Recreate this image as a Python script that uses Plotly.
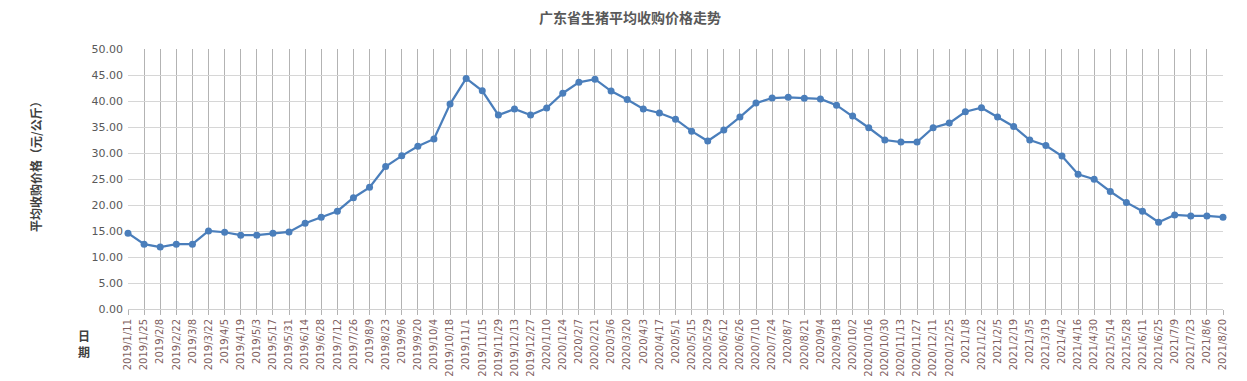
import plotly.graph_objects as go

dates = [
    "2019/1/11", "2019/1/25", "2019/2/8", "2019/2/22", "2019/3/8", "2019/3/22",
    "2019/4/5", "2019/4/19", "2019/5/3", "2019/5/17", "2019/5/31", "2019/6/14",
    "2019/6/28", "2019/7/12", "2019/7/26", "2019/8/9", "2019/8/23", "2019/9/6",
    "2019/9/20", "2019/10/4", "2019/10/18", "2019/11/1", "2019/11/15", "2019/11/29",
    "2019/12/13", "2019/12/27", "2020/1/10", "2020/1/24", "2020/2/7", "2020/2/21",
    "2020/3/6", "2020/3/20", "2020/4/3", "2020/4/17", "2020/5/1", "2020/5/15",
    "2020/5/29", "2020/6/12", "2020/6/26", "2020/7/10", "2020/7/24", "2020/8/7",
    "2020/8/21", "2020/9/4", "2020/9/18", "2020/10/2", "2020/10/16", "2020/10/30",
    "2020/11/13", "2020/11/27", "2020/12/11", "2020/12/25", "2021/1/8", "2021/1/22",
    "2021/2/5", "2021/2/19", "2021/3/5", "2021/3/19", "2021/4/2", "2021/4/16",
    "2021/4/30", "2021/5/14", "2021/5/28", "2021/6/11", "2021/6/25", "2021/7/9",
    "2021/7/23", "2021/8/6", "2021/8/20",
]

prices = [
    14.57, 12.46, 11.90, 12.46, 12.46, 15.02, 14.76, 14.19, 14.19, 14.57,
    14.83, 16.50, 17.66, 18.81, 21.40, 23.40, 27.40, 29.45, 31.30, 32.70,
    39.40, 44.35, 41.95, 37.30, 38.45, 37.30, 38.64, 41.50, 43.60, 44.20,
    41.90, 40.30, 38.45, 37.70, 36.50, 34.20, 32.30, 34.40, 36.90, 39.60,
    40.57, 40.70, 40.55, 40.40, 39.20, 37.10, 34.85, 32.50, 32.10, 32.10,
    34.85, 35.75, 37.93, 38.70, 36.90, 35.10, 32.50, 31.45, 29.40, 25.90,
    24.96, 22.60, 20.50, 18.80, 16.70, 18.10, 17.90, 17.90, 17.65,
]

y_ticks = [0, 5, 10, 15, 20, 25, 30, 35, 40, 45, 50]

title_text = "广东省生猪平均收购价格走势"
y_title = "平均收购价格（元/公斤）"
x_title = "日<br>期"

idx = list(range(len(dates)))
line_color = "#4A7EBB"
cjk = "Noto Sans CJK SC"

# page body has an 8px margin: size figure so it fits the 1247x381 window
W, H = 1239, 373
ML, MR, MT, MB = 120, 24, 41, 72
PW, PH = W - ML - MR, H - MT - MB


def px_x(x):  # window pixel -> paper x
    return (x - 8 - ML) / PW


def px_y(y):  # window pixel -> paper y
    return (H - MB + 8 - y) / PH


fig = go.Figure()
fig.add_trace(go.Scatter(
    x=idx, y=prices, mode="lines+markers",
    line=dict(color=line_color, width=2.25),
    marker=dict(color=line_color, size=7, symbol="circle"),
    cliponaxis=False,
    showlegend=False,
))

fig.update_layout(
    width=W, height=H,
    margin=dict(l=ML, r=MR, t=MT, b=MB),
    paper_bgcolor="white", plot_bgcolor="white",
    xaxis=dict(
        range=[0, len(dates) - 1],
        tickmode="array", tickvals=idx, ticktext=dates,
        tickangle=-90, automargin=False,
        tickfont=dict(family="DejaVu Sans", size=10, color="#7F5F5F"),
        showgrid=True, gridcolor="#B3B3B3", gridwidth=1,
        ticks="outside", ticklen=5, tickcolor="#B3B3B3",
        showline=True, linecolor="#D0D0D0", linewidth=1,
        zeroline=False, fixedrange=True,
    ),
    yaxis=dict(
        range=[0, 50], automargin=False,
        tickmode="array", tickvals=y_ticks,
        ticktext=[f"{v:.2f}" for v in y_ticks],
        tickfont=dict(family="DejaVu Sans", size=11, color="#595959"),
        showgrid=True, gridcolor="#D6D6D6", gridwidth=1,
        zeroline=False, showline=False, ticks="", ticklabelstandoff=4,
        fixedrange=True,
    ),
    annotations=[
        dict(text=f"<b>{title_text}</b>", xref="paper", yref="paper",
             x=px_x(630), y=px_y(17),
             xanchor="center", yanchor="middle", showarrow=False,
             font=dict(family=cjk, size=14, color="#595959")),
        dict(text=f"<b>{y_title}</b>", xref="paper", yref="paper",
             x=px_x(35), y=px_y(164),
             xanchor="center", yanchor="middle", showarrow=False, textangle=-90,
             font=dict(family=cjk, size=12, color="#404040")),
        dict(text=f"<b>{x_title}</b>", xref="paper", yref="paper",
             x=px_x(84), y=px_y(343),
             xanchor="center", yanchor="middle", showarrow=False,
             font=dict(family=cjk, size=12, color="#404040")),
    ],
)

fig.write_html("out.html")
